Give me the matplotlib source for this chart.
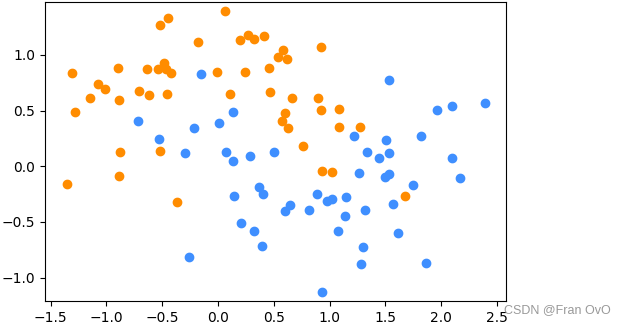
import matplotlib
matplotlib.use("Agg")
import matplotlib.pyplot as plt
import numpy as np

# class 0 (orange) points
orange_x = [-0.448, -0.522, -0.18, -1.31, -0.90, -0.633, -0.537, -0.483, -0.462, -0.418,
            -1.076, -1.013, -1.15, -0.89, -0.705, -0.618, -0.46, -1.285, -0.875, -0.522,
            0.06, 0.195, 0.27, 0.32, 0.416, 0.578, 0.539, 0.617, 0.92, -0.005,
            0.243, 0.455, 0.108, 0.47, 0.665, 0.898, 0.921, 1.083, 0.602, 0.575,
            0.629, 1.083, 0.76, 1.271, 0.934, 1.02, -1.356, -0.89, -0.37, 1.675]
orange_y = [1.33, 1.27, 1.12, 0.835, 0.886, 0.87, 0.874, 0.925, 0.87, 0.835,
            0.737, 0.69, 0.614, 0.593, 0.68, 0.638, 0.65, 0.488, 0.126, 0.137,
            1.39, 1.132, 1.177, 1.144, 1.17, 1.048, 0.985, 0.967, 1.07, 0.85,
            0.85, 0.883, 0.65, 0.665, 0.614, 0.614, 0.503, 0.515, 0.479, 0.407,
            0.344, 0.356, 0.182, 0.356, -0.04, -0.054, -0.162, -0.09, -0.323, -0.264]

# class 1 (blue) points
blue_x = [-0.15, -0.717, -0.533, -0.211, -0.295, 0.138, 0.01, 1.22, 0.072, 0.285,
          0.503, 1.529, 1.959, 2.096, 2.39, 1.505, 1.821, 1.331, 1.529, 1.442,
          2.096, 0.135, 0.147, 0.368, 0.407, 0.21, 0.32, 0.395, 0.599, 0.643,
          0.814, 0.888, 0.975, 1.023, 1.146, 1.134, 1.071, 0.934, 1.26, -0.262,
          1.499, 1.531, 2.168, 1.75, 1.564, 1.316, 1.615, 1.301, 1.28, 1.863]
blue_y = [0.825, 0.404, 0.243, 0.344, 0.117, 0.49, 0.389, 0.27, 0.126, 0.09,
          0.126, 0.775, 0.502, 0.542, 0.566, 0.234, 0.27, 0.13, 0.12, 0.075,
          0.072, 0.045, -0.264, -0.186, -0.249, -0.507, -0.581, -0.719, -0.399, -0.348,
          -0.395, -0.249, -0.312, -0.291, -0.276, -0.449, -0.581, -1.13, -0.063, -0.818,
          -0.093, -0.069, -0.105, -0.165, -0.336, -0.39, -0.597, -0.722, -0.88, -0.872]

fig = plt.figure(figsize=(6.25, 3.24), dpi=100)
ax = fig.add_axes([45 / 625, 23 / 324, 461 / 625, 299 / 324])

ax.scatter(orange_x, orange_y, c="#FF8C00", s=36)
ax.scatter(blue_x, blue_y, c="#3F8FFF", s=36)

ax.set_xlim(-1.55, 2.58)
ax.set_ylim(-1.21, 1.475)
ax.set_xticks(np.arange(-1.5, 2.51, 0.5))
ax.set_yticks([-1.0, -0.5, 0.0, 0.5, 1.0])
ax.tick_params(labelsize=10)

# watermark
fig.text(0.978, 0.034, "CSDN @Fran OvO", ha="right", va="baseline",
         fontsize=9, family="Liberation Sans", color="#999999")

fig.savefig("out.png", dpi=100)
